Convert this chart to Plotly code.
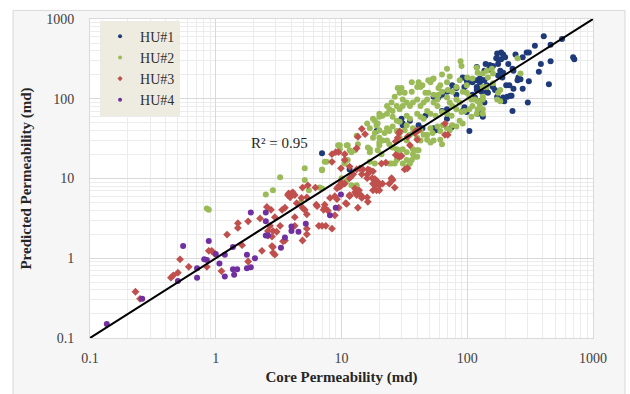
import plotly.graph_objects as go

# HU#1 (core permeability, predicted permeability) in md
hu1_points = [
    (406, 608), (567, 560), (460, 474), (345, 461), (695, 331), (710, 313), (297, 380), (309, 380), (242, 360), (276, 331),
    (173, 370), (186, 380), (193, 360), (200, 331), (170, 322), (176, 313), (186, 313), (140, 272), (151, 265), (160, 258),
    (176, 272), (212, 272), (385, 272), (119, 251), (137, 224), (148, 231), (183, 224), (193, 212), (229, 237), (233, 224),
    (371, 218), (255, 185), (265, 175), (251, 170), (309, 166), (446, 152), (176, 196), (190, 185), (126, 180), (133, 170),
    (204, 148), (216, 148), (233, 133), (276, 133), (143, 122), (146, 119), (160, 140), (166, 129), (173, 106), (190, 98),
    (193, 104), (197, 93), (208, 106), (225, 109), (303, 90), (119, 140), (126, 133), (130, 122), (110, 112), (115, 104),
    (229, 70), (121, 64.7), (137, 90), (460, 296), (92, 185), (99, 170), (100, 157), (95, 140), (110, 161), (119, 170),
    (126, 161), (76, 148), (82, 136), (69, 122), (119, 129), (126, 129), (220, 109), (104, 39.3), (92, 70), (95, 78.5),
    (82, 112), (69, 74), (54, 106), (46.5, 61), (35, 53), (30.7, 48.8), (56, 40.4), (75, 43.8), (19, 39.3), (7.0, 20.8),
    (11.6, 13), (30.7, 46.4), (41, 46.4), (72.5, 126), (63, 112), (59, 104), (137, 170), (143, 148), (99, 68), (126, 93),
    (130, 64.7), (133, 59.5), (44, 42.7), (54, 42.7), (69, 56), (30, 56), (63, 70),
]

hu2_points = [
    (88.5, 296), (90, 258), (69, 237), (72.5, 190), (63, 201), (53, 175), (51, 161), (44, 148), (40, 140), (42.5, 140),
    (36.2, 122), (46.5, 119), (49, 119), (54, 112), (59, 112), (63, 122), (70, 129), (76, 122), (87, 170), (100, 185),
    (110, 180), (119, 244), (121, 212), (133, 207), (143, 224), (157, 237), (146, 185), (160, 207), (251, 322), (265, 207),
    (176, 119), (183, 129), (133, 106), (133, 98), (121, 93), (126, 85), (104, 106), (108, 98), (115, 98), (92, 122),
    (99, 119), (82, 98), (87, 90), (72.5, 90), (76, 81), (69, 104), (58, 98), (54, 90), (58, 81), (48, 98),
    (45, 90), (42.5, 81), (40, 98), (37, 90), (35, 81), (30.7, 98), (33, 90), (30.7, 81), (27.5, 81), (29, 74),
    (25.5, 70), (24, 74), (23, 64.7), (21.2, 61), (20, 59.5), (18.4, 53), (19.4, 48.8), (25.5, 59.5), (27.5, 53), (29, 51.6),
    (33, 61), (35, 56), (40, 64.7), (42.5, 59.5), (45, 56), (48, 70), (51, 64.7), (56, 61), (63, 68), (69, 64.7),
    (75, 61), (82, 74), (90, 68), (95, 70), (104, 74), (110, 81), (119, 64.7), (121, 74), (133, 74), (133, 64.7),
    (108, 59.5), (87, 53), (92, 48.8), (76, 46.4), (82, 45), (64, 46.4), (69, 42.7), (72.5, 40.4), (58, 45), (61, 39.3),
    (51, 42.7), (53, 37.2), (48, 35.3), (42.5, 40.4), (45, 35.3), (37, 42.7), (37, 37.2), (33, 46.4), (31.8, 40.4), (35, 35.3),
    (25.5, 45), (27.5, 39.3), (29, 37.2), (23, 42.7), (24, 39.3), (19, 46.4), (20, 40.4), (18.4, 37.2), (16, 48.8), (16.8, 42.7),
    (17.8, 32.4), (20, 32.4), (21.2, 29.9), (29, 32.4), (33, 29.9), (40, 32.4), (42.5, 29.9), (48, 30.7), (51, 28.3), (54, 29.9),
    (61, 30.7), (63, 26.8), (24, 26.8), (25.5, 24.5), (27.5, 23.2), (30.7, 23.2), (33, 21.4), (40, 22.6), (37, 20.2), (38.5, 18.7),
    (36.2, 17.1), (35, 15.4), (20, 26.1), (19.4, 22.6), (20.8, 20.2), (16.2, 24.5), (16.8, 21.4), (13.2, 34.3), (13.5, 26.8), (12.8, 22.6),
    (11, 26.1), (11.6, 22.6), (9.4, 26.1), (9.7, 23.2), (16.8, 16.2), (18.4, 15.4), (24, 15.4), (26.5, 15.4), (33, 17.1), (33.5, 14.1),
    (11.2, 17.1), (10.6, 15.4), (7.6, 16.2), (7.0, 13), (12, 10.7), (10, 10.1), (11, 9.4), (13.2, 8.2), (25, 90), (26.5, 106),
    (29, 119), (31.8, 119), (28, 136), (30, 136), (23, 81), (17.8, 56), (20, 64.7), (36.2, 161), (41, 161), (49, 170),
    (54, 180), (59, 136), (61, 148), (69, 161), (82, 140), (99, 148), (133, 140), (143, 140), (160, 157), (173, 98),
    (183, 93), (0.85, 4.2), (0.88, 4.05), (2.5, 6.3), (2.85, 7.1), (4.8, 5.1), (5.5, 7.1), (3.25, 10.4), (5.1, 9.6), (5.1, 13.4),
    (7.0, 12.7), (7.0, 7.5), (7.35, 16.2), (9.7, 26.1), (11.2, 26.1), (12, 21.4), (16.8, 23.2), (20, 28.3), (23, 29.9), (22, 37.2),
    (27.5, 17.1), (30.7, 15.4), (37, 23.2), (41, 22.6), (40, 18.7), (29, 22.6), (25, 15.4), (12, 8.2), (6.7, 7.7),
]

hu3_points = [
    (0.23, 0.38), (0.25, 0.31), (0.44, 0.57), (0.46, 0.61), (0.5, 0.66), (0.52, 0.97), (0.61, 0.78), (0.85, 0.78), (0.88, 1.24), (0.93, 1.24),
    (0.98, 1.14), (1.11, 0.69), (1.23, 1.98), (1.5, 2.75), (1.5, 2.4), (1.62, 1.46), (1.81, 2.9), (1.81, 0.91), (2.25, 3.16), (2.33, 1.24),
    (2.55, 4.4), (2.75, 4.05), (2.8, 1.87), (2.85, 2.2), (2.85, 1.38), (2.95, 1.11), (3.05, 2.15), (3.37, 4.05), (3.55, 4.3), (3.25, 2.55),
    (3.43, 1.63), (3.8, 6.5), (4.0, 6.5), (4.1, 6.7), (4.25, 3.27), (4.25, 2.55), (4.4, 4.9), (4.8, 5.7), (4.9, 1.67), (5.1, 4.05),
    (5.3, 2.35), (5.3, 2.0), (6.3, 4.7), (6.6, 2.55), (3.75, 6.2), (3.9, 5.8), (4.25, 6.2), (4.9, 7.7), (5.4, 8.2), (6.2, 7.7),
    (4.9, 4.3), (5.3, 3.55), (7.35, 4.3), (7.8, 3.95), (7.0, 2.55), (7.5, 2.55), (8.1, 5.7), (8.4, 2.35), (2.7, 2.55), (2.95, 3.27),
    (3.55, 1.67), (2.6, 2.2), (2.6, 1.93), (2.8, 1.42), (2.85, 1.17),
    (5.3, 5.8), (6.4, 4.5), (8.85, 6.0), (9.2, 5.5), (8.85, 3.45), (9.5, 4.3), (9.4, 7.9), (10, 8.2), (11, 4.8), (11.6, 6.0),
    (12.8, 6.7), (13.2, 6.5), (14, 6.3), (14.5, 6.0), (12.8, 7.5), (13.8, 7.1), (13.5, 4.3), (14.5, 5.7), (16, 5.8), (16.2, 5.1),
    (17.5, 10.1), (18.4, 9.9), (17.8, 7.1), (19, 7.1), (20, 7.1), (18.4, 8.2), (20, 8.2), (21.2, 8.6), (19.4, 9.1), (24, 8.6),
    (25, 9.9), (14.5, 42), (15.4, 36), (28.6, 37), (9.0, 21.4), (9.5, 21.4), (13.2, 23.9), (8.4, 16.2), (10.6, 17.1), (9.9, 13.4),
    (13.2, 13), (14.8, 13), (16.2, 13), (16.8, 12.3), (17.8, 12.3), (14.5, 11.3), (16, 10.1), (12.4, 11.3), (11.6, 10.1), (31.8, 13),
    (33.5, 13.4), (28, 19.2), (30, 19.2), (25, 10.1), (25.5, 9.6), (17.8, 8.6), (11.6, 6.2), (13.2, 6.2), (9.2, 7.5), (9.7, 7.9),
    (10.8, 4.9), (7.2, 4.05), (7.35, 4.7), (20.8, 15.4), (22.5, 15.8), (26.5, 7.7), (10, 8.9), (10.6, 8.6),
    (29, 39), (33.5, 33.4), (38.5, 37.2), (66.5, 48.8), (66.5, 35.3), (70, 35.3), (13.5, 33.4), (27, 29.1), (28, 32.4), (39, 39.3),
    (41, 40.4), (35, 26.1), (40, 30.7), (10.6, 20.2), (8.4, 20.2), (14, 13.4), (16.8, 12.7), (11.6, 14.1), (16, 11.2), (27, 19.7),
    (29, 18.7),
]

hu4_points = [
    (0.136, 0.15), (0.26, 0.31), (0.5, 0.52), (0.55, 1.42), (0.71, 0.75), (0.71, 0.57), (0.81, 0.97), (0.85, 0.95), (0.88, 1.65), (1.0, 1.13),
    (1.07, 0.86), (1.18, 1.11), (1.18, 0.59), (1.37, 1.38), (1.37, 0.73), (1.48, 0.73), (1.40, 0.62), (1.77, 1.11), (1.77, 0.75), (1.9, 0.77),
    (1.9, 3.75), (2.05, 1.0), (2.5, 3.75), (2.5, 2.9), (2.5, 1.93), (2.6, 1.93), (3.3, 1.35), (3.55, 1.82), (4.0, 2.2), (4.0, 2.5),
    (4.55, 2.15), (5.2, 2.7), (8.1, 3.45), (9.0, 4.3), (9.9, 6.3),
]

series_names = ["HU#1", "HU#2", "HU#3", "HU#4"]
series_points = [hu1_points, hu2_points, hu3_points, hu4_points]
series_colors = ["#1f3a78", "#9bbb59", "#c0504d", "#7030a0"]
series_symbols = ["circle", "circle", "diamond", "circle"]
series_sizes = [6, 6, 6, 6]

line_x = [0.1, 1000]
line_y = [0.1, 1000]

tick_vals = [0.1, 1, 10, 100, 1000]
tick_text = ["0.1", "1", "10", "100", "1000"]
minor_vals = [m * 10.0 ** e for e in range(-1, 3) for m in range(2, 10)]

r2_text = "R² = 0.95"

SERIF = "Liberation Serif, Times New Roman, serif"

fig = go.Figure()
for name, pts, col, sym, sz in zip(series_names, series_points, series_colors, series_symbols, series_sizes):
    xs = [p[0] for p in pts]
    ys = [p[1] for p in pts]
    fig.add_trace(go.Scatter(
        x=xs, y=ys, mode="markers", name=name, legendgroup=name, showlegend=False,
        marker=dict(color=col, symbol=sym, size=sz, line=dict(width=0)),
    ))
    # legend-only entry with a smaller swatch
    fig.add_trace(go.Scatter(
        x=[None], y=[None], mode="markers", name=name, legendgroup=name, showlegend=True,
        marker=dict(color=col, symbol=sym, size=4, line=dict(width=0)),
    ))

fig.add_trace(go.Scatter(
    x=line_x, y=line_y, mode="lines", showlegend=False,
    line=dict(color="black", width=2),
))

axis_common = dict(
    type="log", range=[-1, 3],
    tickmode="array", tickvals=tick_vals, ticktext=tick_text,
    showgrid=True, gridcolor="#d9d9d9", gridwidth=1,
    minor=dict(tickmode="array", tickvals=minor_vals, showgrid=True, gridcolor="#ececec", gridwidth=1),
    zeroline=False, showline=True, linecolor="#d9d9d9", linewidth=1, mirror=True,
    ticks="", tickfont=dict(family=SERIF, size=14, color="#404040"),
)

fig.update_layout(
    width=630, height=394,
    margin=dict(l=90, r=37, t=16, b=45),
    paper_bgcolor="white",
    plot_bgcolor="white",
    font=dict(family=SERIF, color="#262626"),
    xaxis=dict(**axis_common, ticklabelstandoff=7,
               title=dict(text="<b>Core Permeability (md)</b>", font=dict(family=SERIF, size=15, color="#262626"), standoff=6)),
    yaxis=dict(**axis_common, ticklabelstandoff=12,
               title=dict(text="<b>Predicted Permeability (md)</b>", font=dict(family=SERIF, size=15, color="#262626"), standoff=10)),
    legend=dict(
        x=0.02, y=0.995, xanchor="left", yanchor="top",
        bgcolor="#eeece1", borderwidth=0,
        font=dict(family=SERIF, size=14, color="#303030"),
        tracegroupgap=0, itemwidth=30,
    ),
    shapes=[
        dict(type="rect", xref="paper", yref="paper", x0=-0.153, x1=1.0636, y0=-0.2, y1=1.027,
             line=dict(color="#d9d9d9", width=1), fillcolor="#f6f6f6", layer="below"),
        dict(type="rect", xref="paper", yref="paper", x0=0, x1=1, y0=0, y1=1,
             line=dict(width=0), fillcolor="white", layer="below"),
    ],
    annotations=[
        dict(text=r2_text, x=0.51, y=1.44, xref="x", yref="y", showarrow=False,
             font=dict(family=SERIF, size=15, color="#262626")),
    ],
)

fig.write_html("out.html")
